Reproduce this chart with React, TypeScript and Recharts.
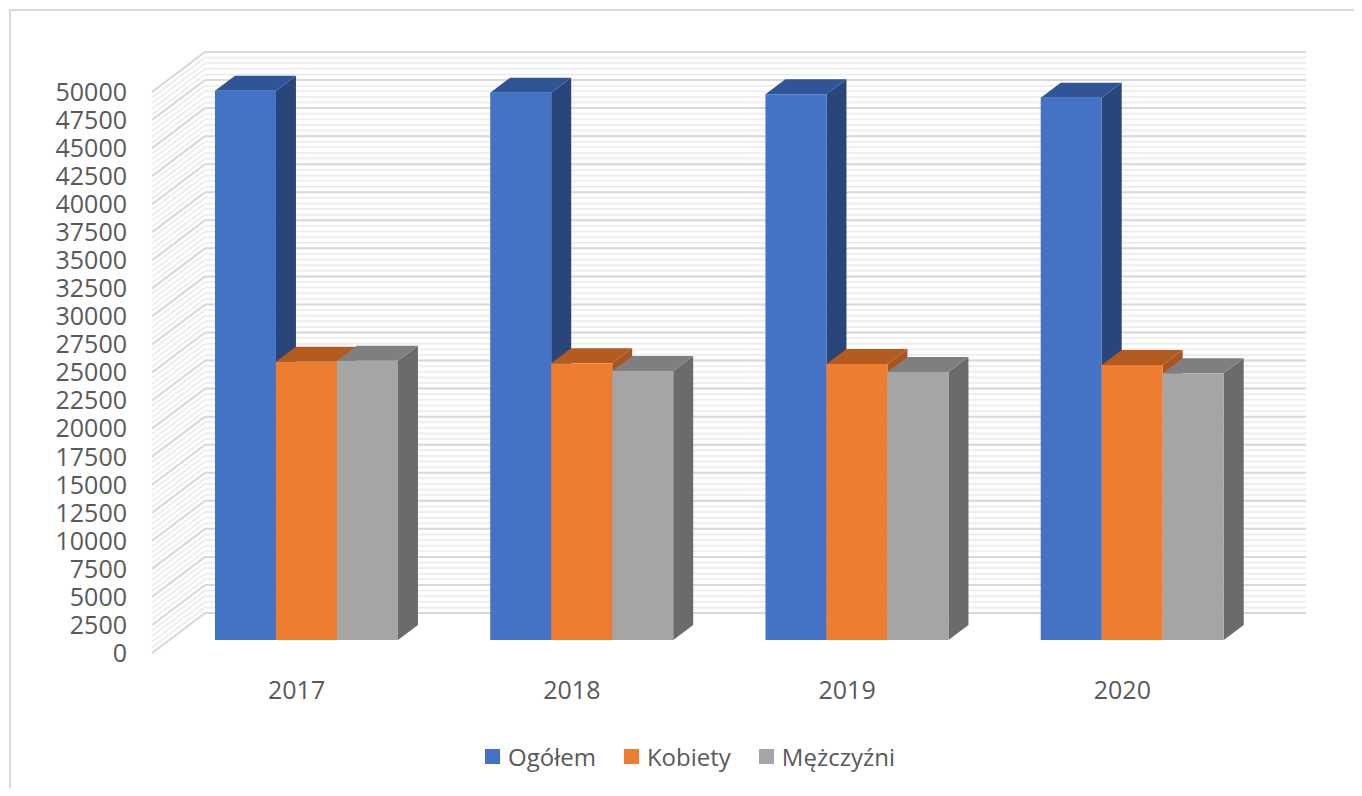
import { Bar, BarChart, CartesianGrid, Legend, XAxis, YAxis } from 'recharts';

const lata = ['2017', '2018', '2019', '2020'];
const ogolem = [48960, 48780, 48640, 48330];
const kobiety = [24800, 24660, 24600, 24510];
const mezczyzni = [24890, 23980, 23890, 23770];
const serie = ['Ogółem', 'Kobiety', 'Mężczyźni'];
const yTicks = [
  0, 2500, 5000, 7500, 10000, 12500, 15000, 17500, 20000, 22500, 25000,
  27500, 30000, 32500, 35000, 37500, 40000, 42500, 45000, 47500, 50000,
];

// paski tła ściany co 500
const minorTicks = Array.from({ length: 101 }, (_, i) => i * 500);

// przesunięcie ściany tylnej względem płaszczyzny osi
const WALL_DX = 53;
const WALL_DY = -40;
// przesunięcie przodu słupków i ich głębokość
const BAR_DX = 17;
const BAR_DY = -13;
const DEPTH_X = 20;
const DEPTH_Y = -15;

const FONT = "'Open Sans', 'Noto Sans', sans-serif";
const TEXT = '#595959';

const chartData = lata.map((rok, i) => ({
  rok,
  ogolem: ogolem[i],
  kobiety: kobiety[i],
  mezczyzni: mezczyzni[i],
}));

const wallLine = (stroke: string, strokeWidth: number) => (props: any) => {
  const { x1, x2, y1, index } = props;
  const yb = y1 + WALL_DY;
  return (
    <g key={`w-${stroke}-${index}`}>
      <line x1={x1} y1={y1} x2={x1 + WALL_DX} y2={yb} stroke={stroke} strokeWidth={strokeWidth} />
      <line x1={x1 + WALL_DX} y1={yb} x2={x2 + WALL_DX} y2={yb} stroke={stroke} strokeWidth={strokeWidth} />
    </g>
  );
};

const box3d = (top: string, side: string) => (props: any) => {
  const { x, y, width, height, fill } = props;
  if (width == null || height == null) return <g />;
  const fx = x + BAR_DX;
  const fy = y + BAR_DY;
  const topPts = [
    [fx, fy],
    [fx + DEPTH_X, fy + DEPTH_Y],
    [fx + width + DEPTH_X, fy + DEPTH_Y],
    [fx + width, fy],
  ];
  const sidePts = [
    [fx + width, fy],
    [fx + width + DEPTH_X, fy + DEPTH_Y],
    [fx + width + DEPTH_X, fy + height + DEPTH_Y],
    [fx + width, fy + height],
  ];
  return (
    <g>
      <polygon points={sidePts.map((p) => p.join(',')).join(' ')} fill={side} />
      <polygon points={topPts.map((p) => p.join(',')).join(' ')} fill={top} />
      <rect x={fx} y={fy} width={width} height={height} fill={fill} />
    </g>
  );
};

const XTick = (props: any) => {
  const { x, y, payload } = props;
  return (
    <text x={x + 7} y={y + 38} textAnchor="middle" fill={TEXT} fontSize={25} fontFamily={FONT}>
      {payload.value}
    </text>
  );
};

const LegendContent = (props: any) => {
  const items = [...(props.payload || [])].sort(
    (a: any, b: any) => serie.indexOf(a.value) - serie.indexOf(b.value),
  );
  return (
    <div
      style={{
        width: '100%',
        height: 30,
        display: 'flex',
        alignItems: 'center',
        paddingLeft: 413,
        boxSizing: 'border-box',
        fontFamily: FONT,
        fontSize: 24,
        color: TEXT,
      }}
    >
      {items.map((item: any) => (
        <div key={item.value} style={{ display: 'flex', alignItems: 'center', marginRight: 28 }}>
          <span style={{ width: 15, height: 15, background: item.color, marginRight: 8 }} />
          <span>{item.value}</span>
        </div>
      ))}
    </div>
  );
};

export default function App() {
  return (
    <div style={{ position: 'relative', width: 1346, height: 780, overflow: 'hidden' }}>
      <div
        style={{
          position: 'absolute',
          left: 1,
          top: 1,
          width: 1400,
          height: 900,
          border: '2px solid #D9D9D9',
        }}
      />
      <div style={{ position: 'absolute', left: 0, top: 0 }}>
        <BarChart
          width={1346}
          height={780}
          data={chartData}
          margin={{ top: 84, right: 101, left: 64, bottom: 17 }}
          barCategoryGap="16.7%"
          barGap={0}
        >
          <CartesianGrid
            vertical={false}
            horizontalValues={minorTicks}
            horizontal={wallLine('#EEEEEE', 2)}
          />
          <CartesianGrid vertical={false} horizontal={wallLine('#D9D9D9', 2)} />
          <XAxis
            dataKey="rok"
            axisLine={false}
            tickLine={false}
            height={88}
            tick={<XTick />}
          />
          <YAxis
            domain={[0, 50000]}
            ticks={yTicks}
            interval={0}
            width={80}
            axisLine={false}
            tickLine={false}
            tickMargin={19}
            tick={{ fontSize: 25, fill: TEXT, fontFamily: FONT }}
          />
          <Legend
            verticalAlign="bottom"
            height={30}
            itemSorter={null}
            content={<LegendContent />}
          />
          <Bar
            dataKey="ogolem"
            name="Ogółem"
            fill="#4472C4"
            isAnimationActive={false}
            shape={box3d('#2F5597', '#284679')}
          />
          <Bar
            dataKey="kobiety"
            name="Kobiety"
            fill="#ED7D31"
            isAnimationActive={false}
            shape={box3d('#B45B1F', '#A9551D')}
          />
          <Bar
            dataKey="mezczyzni"
            name="Mężczyźni"
            fill="#A5A5A5"
            isAnimationActive={false}
            shape={box3d('#7F7F7F', '#6B6B6B')}
          />
        </BarChart>
      </div>
    </div>
  );
}
